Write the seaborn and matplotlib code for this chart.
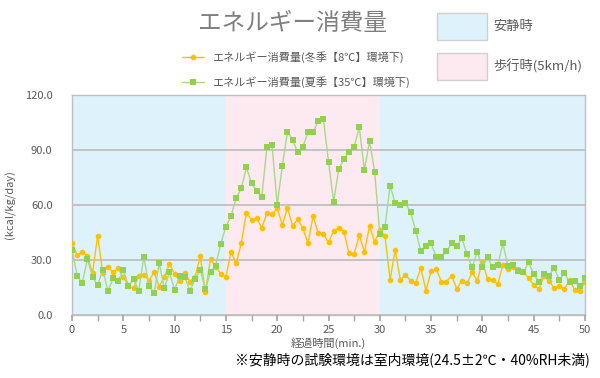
import numpy as np
import pandas as pd
import matplotlib
matplotlib.use("Agg")
import matplotlib.pyplot as plt
import seaborn as sns
from matplotlib.patches import Rectangle
from matplotlib.lines import Line2D
from matplotlib.ticker import MultipleLocator, FormatStrFormatter

sns.set_theme(style="white")
plt.rcParams['font.family'] = ['Noto Sans CJK JP', 'DejaVu Sans']

### Data
elapsed_min = np.arange(0, 50.5, 0.5)   # sampling grid, every 30 s

winter_8c = [39.3, 32.7, 34.2, 32.4, 22.7, 43.3, 22.7, 26.4, 23.3, 25.5,
             20.5, 16.0, 14.7, 21.5, 21.8, 18.7, 23.3, 15.5, 20.9, 27.8,
             22.4, 18.7, 22.7, 18.2, 20.9, 32.0, 12.4, 30.5, 26.2, 22.5,
             20.7, 34.5, 28.2, 39.1, 55.8, 51.8, 52.7, 47.6, 55.5, 54.9,
             58.2, 49.1, 58.5, 48.7, 52.2, 47.3, 39.1, 54.0, 44.5, 44.0,
             39.6, 45.8, 47.6, 45.5, 33.6, 33.3, 43.6, 34.5, 48.3, 39.8,
             46.2, 43.3, 19.3, 35.5, 19.1, 22.0, 18.7, 17.6, 25.5, 13.3,
             23.8, 25.1, 18.2, 18.2, 21.5, 14.2, 18.7, 17.3, 23.3, 18.7,
             29.1, 19.6, 19.1, 16.9, 27.3, 25.1, 26.0, 25.1, 23.6, 20.0,
             16.4, 14.2, 21.1, 18.7, 14.5, 16.0, 14.2, 19.1, 13.6, 13.3,
             18.2]

summer_35c = [35.6, 21.5, 17.3, 30.5, 20.9, 16.2, 24.7, 13.1, 20.0, 18.7,
              24.7, 16.0, 19.6, 13.1, 31.8, 16.0, 12.0, 28.2, 14.5, 23.3,
              13.6, 21.5, 20.5, 13.3, 19.6, 24.5, 14.2, 23.3, 27.0, 38.9,
              48.2, 54.0, 63.6, 69.1, 80.5, 71.8, 67.8, 64.5, 91.5, 92.7,
              60.0, 81.3, 100.0, 95.5, 88.7, 91.8, 99.6, 99.6, 106.0, 107.1,
              83.6, 61.8, 79.5, 84.9, 89.1, 91.8, 102.4, 79.1, 94.9, 78.2,
              44.4, 48.0, 70.5, 61.1, 60.2, 61.1, 56.0, 46.0, 34.7, 37.5,
              39.1, 31.8, 31.8, 34.7, 39.1, 37.5, 41.8, 33.3, 26.0, 34.5,
              26.0, 31.5, 26.0, 27.5, 39.1, 26.5, 27.5, 23.8, 23.3, 28.7,
              22.4, 17.8, 22.4, 21.5, 25.6, 19.1, 22.9, 17.8, 18.4, 15.6,
              20.0]

phase_start = [0, 15, 30]
phase_end = [15, 30, 50]
phase_kind = ["rest", "walk", "rest"]

series_labels = ["エネルギー消費量(冬季【8℃】環境下)", "エネルギー消費量(夏季【35℃】環境下)"]
phase_labels = {"rest": "安静時", "walk": "歩行時(5km/h)"}

colors = {"winter": "#FFC000", "summer": "#92D050"}
phase_colors = {"rest": "#DDF2FA", "walk": "#FDE9F0"}
grey_text = "#595959"

df = pd.DataFrame({"min": elapsed_min, "winter": winter_8c, "summer": summer_35c})

### Figure
fig = plt.figure(figsize=(6, 3.78), dpi=100)
ax = fig.add_axes([72/600, 63/378, 513/600, 220/378])

for s, e, k in zip(phase_start, phase_end, phase_kind):
    ax.axvspan(s, e, color=phase_colors[k], lw=0, zorder=0)

sns.lineplot(data=df, x="min", y="winter", ax=ax, color=colors["winter"],
             lw=1.0, marker="o", markersize=4, markeredgewidth=0, zorder=3)
sns.lineplot(data=df, x="min", y="summer", ax=ax, color="#A9D88A",
             lw=1.0, marker="s", markersize=4, markerfacecolor=colors["summer"],
             markeredgewidth=0, zorder=4)

ax.set_xlim(0, 50)
ax.set_ylim(0, 120)
ax.xaxis.set_major_locator(MultipleLocator(5))
ax.xaxis.set_minor_locator(MultipleLocator(2.5))
ax.yaxis.set_major_locator(MultipleLocator(30))
ax.yaxis.set_major_formatter(FormatStrFormatter("%.1f"))
ax.yaxis.grid(True, color="#BFBFBF", lw=1.3, zorder=1)
ax.set_axisbelow(False)
ax.tick_params(axis="y", length=0, pad=14, labelsize=8, labelcolor=grey_text)
ax.tick_params(axis="x", which="both", length=4, direction="out", color="#A6A6A6",
               bottom=True, labelsize=8, labelcolor=grey_text, pad=3)
for sp in ax.spines.values():
    sp.set_color("#BFBFBF")
    sp.set_linewidth(1.0)

ax.set_xlabel("経過時間(min.)", fontsize=8, color=grey_text, labelpad=2)
ax.set_ylabel("(kcal/kg/day)", fontsize=8, color=grey_text, labelpad=6)

### Title
fig.text(293/600, 1 - 23/378, "エネルギー消費量", ha="center", va="center",
         fontsize=17, color="#7F7F7F")

### Series legend
handles = [
    Line2D([], [], color=colors["winter"], marker="o", markersize=4, markeredgewidth=0, lw=1),
    Line2D([], [], color="#A9D88A", marker="s", markersize=4, markerfacecolor=colors["summer"],
           markeredgewidth=0, lw=1),
]
fig.legend(handles, series_labels, loc="upper left", bbox_to_anchor=(182/600, 1 - 51/378),
           frameon=False, fontsize=8, handlelength=2.0, handletextpad=0.7, labelspacing=1.2,
           labelcolor=grey_text, borderaxespad=0, borderpad=0)

### Phase legend boxes
for i, k in enumerate(["rest", "walk"]):
    top = 13 + i * 40
    fig.add_artist(Rectangle((437/600, 1 - (top + 27)/378), 50/600, 27/378,
                             transform=fig.transFigure, facecolor=phase_colors[k],
                             edgecolor="#D0D0D0", lw=1))
    fig.text(493/600, 1 - (top + 13)/378, phase_labels[k], ha="left", va="center",
             fontsize=9.5, color=grey_text)

### Footnote
fig.text(590/600, 1 - 360/378, "※安静時の試験環境は室内環境(24.5±2℃・40%RH未満)",
         ha="right", va="center", fontsize=10, color="black")

fig.savefig("out.png", dpi=100)
